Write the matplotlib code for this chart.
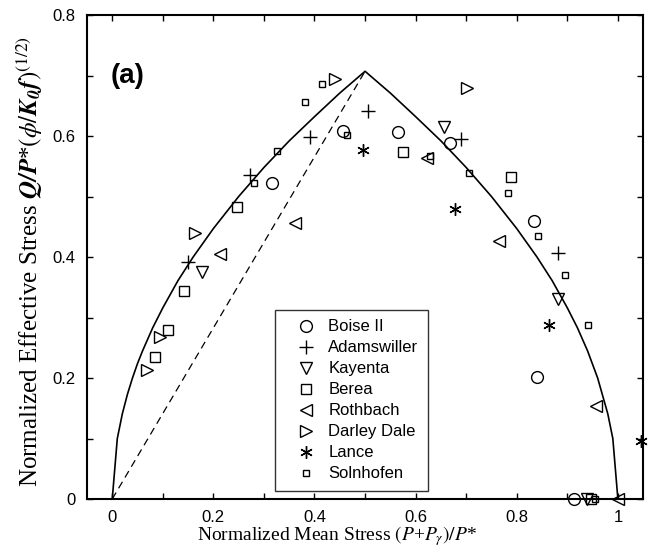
import matplotlib
matplotlib.use("Agg")
import matplotlib.pyplot as plt
from matplotlib.ticker import MultipleLocator

plt.rcParams['font.family'] = ['Liberation Sans', 'DejaVu Sans']
plt.rcParams['mathtext.fontset'] = 'stix'

# yield surface
cap_p = [0, 0.01, 0.02, 0.03, 0.04, 0.05, 0.06, 0.08, 0.1, 0.13, 0.16, 0.2, 0.25, 0.3, 0.35, 0.4, 0.45, 0.5,
         0.55, 0.6, 0.65, 0.7, 0.75, 0.8, 0.84, 0.87, 0.9, 0.92, 0.94, 0.96, 0.98, 0.99, 1.0]
cap_q = [0, 0.100, 0.141, 0.173, 0.200, 0.224, 0.245, 0.283, 0.316, 0.361, 0.400, 0.447, 0.500, 0.548, 0.592,
         0.632, 0.671, 0.707, 0.671, 0.632, 0.592, 0.548, 0.500, 0.447, 0.400, 0.361, 0.316, 0.283, 0.245,
         0.200, 0.141, 0.100, 0]
dash_p = [0, 0.5]
dash_q = [0, 0.707]

boise_p = [0.315, 0.456, 0.566, 0.667, 0.835, 0.841, 0.914]
boise_q = [0.523, 0.608, 0.607, 0.588, 0.460, 0.202, 0.0]
adams_p = [0.149, 0.273, 0.392, 0.505, 0.689, 0.881]
adams_q = [0.391, 0.536, 0.599, 0.641, 0.595, 0.407]
kayenta_p = [0.177, 0.656, 0.882, 0.939]
kayenta_q = [0.376, 0.615, 0.330, 0.0]
berea_p = [0.084, 0.110, 0.142, 0.247, 0.575, 0.788, 0.947]
berea_q = [0.234, 0.279, 0.344, 0.483, 0.573, 0.533, 0.0]
roth_p = [0.214, 0.362, 0.623, 0.765, 0.957, 1.0]
roth_q = [0.405, 0.457, 0.564, 0.427, 0.153, 0.0]
darley_p = [0.068, 0.095, 0.164, 0.441, 0.701]
darley_q = [0.214, 0.268, 0.439, 0.694, 0.680]
lance_p = [0.495, 0.678, 0.864, 1.045]
lance_q = [0.577, 0.480, 0.288, 0.096]
soln_p = [0.280, 0.325, 0.381, 0.415, 0.465, 0.628, 0.706, 0.782, 0.843, 0.896, 0.941, 0.955]
soln_q = [0.523, 0.576, 0.656, 0.686, 0.601, 0.567, 0.539, 0.505, 0.434, 0.370, 0.288, 0.0]

fig = plt.figure(figsize=(6.49, 5.5), dpi=100)
ax = fig.add_axes([0.134, 0.0927, 0.857, 0.88])

ax.plot(cap_p, cap_q, color='black', lw=1.2)
ax.plot(dash_p, dash_q, color='black', lw=0.9, dashes=(6, 4))

mk = dict(linestyle='none', color='black', mfc='none', mew=1.0, clip_on=False)
ax.plot(boise_p, boise_q, marker='o', ms=8.5, label='Boise II', **mk)
ax.plot(adams_p, adams_q, marker='+', ms=9.5, label='Adamswiller', **mk)
ax.plot(kayenta_p, kayenta_q, marker='v', ms=8.5, label='Kayenta', **mk)
ax.plot(berea_p, berea_q, marker='s', ms=7, label='Berea', **mk)
ax.plot(roth_p, roth_q, marker='<', ms=8.5, label='Rothbach', **mk)
ax.plot(darley_p, darley_q, marker='>', ms=8.5, label='Darley Dale', **mk)
ax.plot(lance_p, lance_q, marker=(6, 2, 0), ms=9, label='Lance', **mk)
ax.plot(soln_p, soln_q, marker='s', ms=4.8, label='Solnhofen', **mk)

ax.set_xlim(-0.05, 1.05)
ax.set_ylim(0, 0.8)
ax.xaxis.set_minor_locator(MultipleLocator(0.1))
ax.yaxis.set_minor_locator(MultipleLocator(0.1))
ax.set_xticks([0, 0.2, 0.4, 0.6, 0.8, 1.0])
ax.set_xticklabels(['0', '0.2', '0.4', '0.6', '0.8', '1'])
ax.set_yticks([0, 0.2, 0.4, 0.6, 0.8])
ax.set_yticklabels(['0', '0.2', '0.4', '0.6', '0.8'])
ax.tick_params(which='both', direction='in', top=True, right=True, length=4, width=1.0,
               labelsize=12, pad=8)
for s in ax.spines.values():
    s.set_linewidth(1.5)

ax.set_xlabel(r'Normalized Mean Stress $\mathit{(P}$+$\mathit{P_{\gamma})/P}$*', family='Liberation Serif',
              fontsize=14)
ax.set_ylabel(r'Normalized Effective Stress $\mathbfit{Q/P}$*$(\phi/\mathbfit{K}_{\mathbfit{0}}\mathbfit{f})^{(1/2)}$',
              family='Liberation Serif', fontsize=18)
ax.xaxis.set_label_coords(0.449, -0.052)
ax.yaxis.set_label_coords(-0.076, 0.49)

ax.text(0.042, 0.86, '(a)', transform=ax.transAxes, fontsize=20, fontweight='bold')

leg = ax.legend(loc='upper left', bbox_to_anchor=(0.338, 0.39), fontsize=12, frameon=True,
                fancybox=False, edgecolor='black', handlelength=2.6, handletextpad=0.05,
                labelspacing=0.36, borderpad=0.55, borderaxespad=0, numpoints=1)
leg.get_frame().set_linewidth(1.0)

fig.savefig('out.png', dpi=100)
